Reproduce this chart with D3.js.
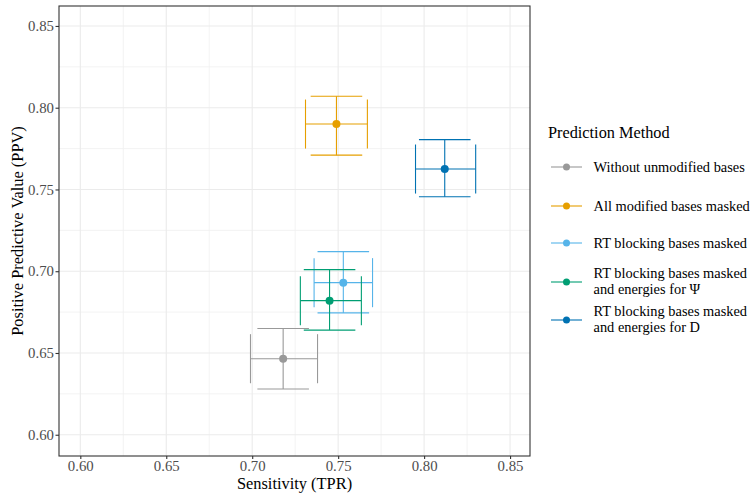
<!DOCTYPE html>
<html>
<head>
<meta charset="utf-8">
<script src="https://cdn.jsdelivr.net/npm/d3@7"></script>
<style>
  body { margin: 0; background: #fff; }
  text { font-family: "Liberation Serif", "DejaVu Serif", serif; }
</style>
</head>
<body>
<div id="chart"></div>
<script>
// data
var methods = [
  "Without unmodified bases",
  "All modified bases masked",
  "RT blocking bases masked",
  "RT blocking bases masked and energies for \u03A8",
  "RT blocking bases masked and energies for D"
];
var legendLines = [
  ["Without unmodified bases"],
  ["All modified bases masked"],
  ["RT blocking bases masked"],
  ["RT blocking bases masked", "and energies for \u03A8"],
  ["RT blocking bases masked", "and energies for D"]
];
var colors = ["#999999", "#E69F00", "#56B4E9", "#009E73", "#0072B2"];
var tpr = [0.718, 0.749, 0.753, 0.745, 0.812];
var tprLow = [0.699, 0.731, 0.736, 0.728, 0.795];
var tprHigh = [0.738, 0.767, 0.770, 0.7635, 0.830];
var ppv = [0.6465, 0.790, 0.693, 0.682, 0.7625];
var ppvLow = [0.628, 0.771, 0.6745, 0.664, 0.7455];
var ppvHigh = [0.665, 0.807, 0.712, 0.701, 0.7805];
var xTicks = [0.60, 0.65, 0.70, 0.75, 0.80, 0.85];
var yTicks = [0.60, 0.65, 0.70, 0.75, 0.80, 0.85];
var capWidth = 0.03;

var svgWidth = 752, svgHeight = 494;
var margin = { top: 6, right: 222, bottom: 38, left: 59 };
var chartWidth = svgWidth - margin.left - margin.right;
var chartHeight = svgHeight - margin.top - margin.bottom;

var svg = d3.select("#chart").append("svg")
  .attr("width", svgWidth)
  .attr("height", svgHeight);

var chartGroup = svg.append("g")
  .attr("transform", `translate(${margin.left}, ${margin.top})`);

var xScale = d3.scaleLinear().domain([0.5876, 0.8616]).range([0, chartWidth]);
var yScale = d3.scaleLinear().domain([0.587, 0.8622]).range([chartHeight, 0]);

// grid: minor then major
var minorX = [0.625, 0.675, 0.725, 0.775, 0.825];
var minorY = [0.625, 0.675, 0.725, 0.775, 0.825];
chartGroup.append("g").selectAll("line")
  .data(minorX)
  .enter().append("line")
  .attr("x1", d => xScale(d)).attr("x2", d => xScale(d))
  .attr("y1", 0).attr("y2", chartHeight)
  .attr("stroke", "#f0f0f0").attr("stroke-width", 0.8);
chartGroup.append("g").selectAll("line")
  .data(minorY)
  .enter().append("line")
  .attr("y1", d => yScale(d)).attr("y2", d => yScale(d))
  .attr("x1", 0).attr("x2", chartWidth)
  .attr("stroke", "#f0f0f0").attr("stroke-width", 0.8);

chartGroup.append("g").selectAll("line")
  .data(xTicks).enter().append("line")
  .attr("x1", d => xScale(d)).attr("x2", d => xScale(d))
  .attr("y1", 0).attr("y2", chartHeight)
  .attr("stroke", "#ebebeb").attr("stroke-width", 1.1);
chartGroup.append("g").selectAll("line")
  .data(yTicks).enter().append("line")
  .attr("y1", d => yScale(d)).attr("y2", d => yScale(d))
  .attr("x1", 0).attr("x2", chartWidth)
  .attr("stroke", "#ebebeb").attr("stroke-width", 1.1);

var xAxis = d3.axisBottom(xScale).tickValues(xTicks).tickFormat(d3.format(".2f"))
  .tickSize(3).tickPadding(1);
var yAxis = d3.axisLeft(yScale).tickValues(yTicks).tickFormat(d3.format(".2f"))
  .tickSize(3.5).tickPadding(1.5);

var gx = chartGroup.append("g")
  .attr("transform", `translate(0, ${chartHeight})`)
  .call(xAxis);
var gy = chartGroup.append("g").call(yAxis);
[gx, gy].forEach(function(g) {
  g.attr("font-family", null).attr("font-size", null);
  g.select(".domain").remove();
  g.selectAll(".tick line").attr("stroke", "#333333").attr("stroke-width", 1.1);
  g.selectAll(".tick text").attr("fill", "#4d4d4d").style("font-size", "14.8px");
});

// error bars and points
var idx = d3.range(methods.length);
var marks = chartGroup.append("g").selectAll("g")
  .data(idx).enter().append("g")
  .attr("stroke", i => colors[i])
  .attr("stroke-width", 1.1);

// vertical error bar
marks.append("line")
  .attr("x1", i => xScale(tpr[i])).attr("x2", i => xScale(tpr[i]))
  .attr("y1", i => yScale(ppvLow[i])).attr("y2", i => yScale(ppvHigh[i]));
marks.append("line")
  .attr("x1", i => xScale(tpr[i] - capWidth / 2)).attr("x2", i => xScale(tpr[i] + capWidth / 2))
  .attr("y1", i => yScale(ppvLow[i])).attr("y2", i => yScale(ppvLow[i]));
marks.append("line")
  .attr("x1", i => xScale(tpr[i] - capWidth / 2)).attr("x2", i => xScale(tpr[i] + capWidth / 2))
  .attr("y1", i => yScale(ppvHigh[i])).attr("y2", i => yScale(ppvHigh[i]));
// horizontal error bar
marks.append("line")
  .attr("x1", i => xScale(tprLow[i])).attr("x2", i => xScale(tprHigh[i]))
  .attr("y1", i => yScale(ppv[i])).attr("y2", i => yScale(ppv[i]));
marks.append("line")
  .attr("x1", i => xScale(tprLow[i])).attr("x2", i => xScale(tprLow[i]))
  .attr("y1", i => yScale(ppv[i] - capWidth / 2)).attr("y2", i => yScale(ppv[i] + capWidth / 2));
marks.append("line")
  .attr("x1", i => xScale(tprHigh[i])).attr("x2", i => xScale(tprHigh[i]))
  .attr("y1", i => yScale(ppv[i] - capWidth / 2)).attr("y2", i => yScale(ppv[i] + capWidth / 2));
marks.append("circle")
  .attr("cx", i => xScale(tpr[i])).attr("cy", i => yScale(ppv[i]))
  .attr("r", 4).attr("fill", i => colors[i]).attr("stroke", "none");

// panel border
chartGroup.append("rect")
  .attr("width", chartWidth).attr("height", chartHeight)
  .attr("fill", "none").attr("stroke", "#333333").attr("stroke-width", 1.1);

// axis titles
svg.append("text")
  .attr("x", margin.left + chartWidth / 2).attr("y", 488.5)
  .attr("text-anchor", "middle").style("font-size", "16.4px").attr("fill", "#000")
  .text("Sensitivity (TPR)");
svg.append("text")
  .attr("transform", `translate(23, ${margin.top + chartHeight / 2}) rotate(-90)`)
  .attr("text-anchor", "middle").style("font-size", "16.4px").attr("fill", "#000")
  .text("Positive Predictive Value (PPV)");

// legend
var legend = svg.append("g").attr("transform", "translate(548, 0)");
legend.append("text").attr("x", 0).attr("y", 138)
  .style("font-size", "16.3px").text("Prediction Method");
var keyY = [167, 206, 243, 282, 320];
var keys = legend.selectAll("g.key").data(idx).enter().append("g")
  .attr("class", "key")
  .attr("transform", i => `translate(0, ${keyY[i]})`);
keys.append("line").attr("x1", 3).attr("x2", 34).attr("y1", 0).attr("y2", 0)
  .attr("stroke", i => colors[i]).attr("stroke-width", 1.1);
keys.append("circle").attr("cx", 18.5).attr("cy", 0).attr("r", 3.5)
  .attr("fill", i => colors[i]);
keys.each(function(i) {
  var lines = legendLines[i];
  var t = d3.select(this).append("text")
    .style("font-size", "14.4px").attr("fill", "#000");
  var start = lines.length === 1 ? 4.7 : -4;
  lines.forEach(function(l, k) {
    t.append("tspan").attr("x", 45.5).attr("y", start + k * 16).text(l);
  });
});
</script>
</body>
</html>
